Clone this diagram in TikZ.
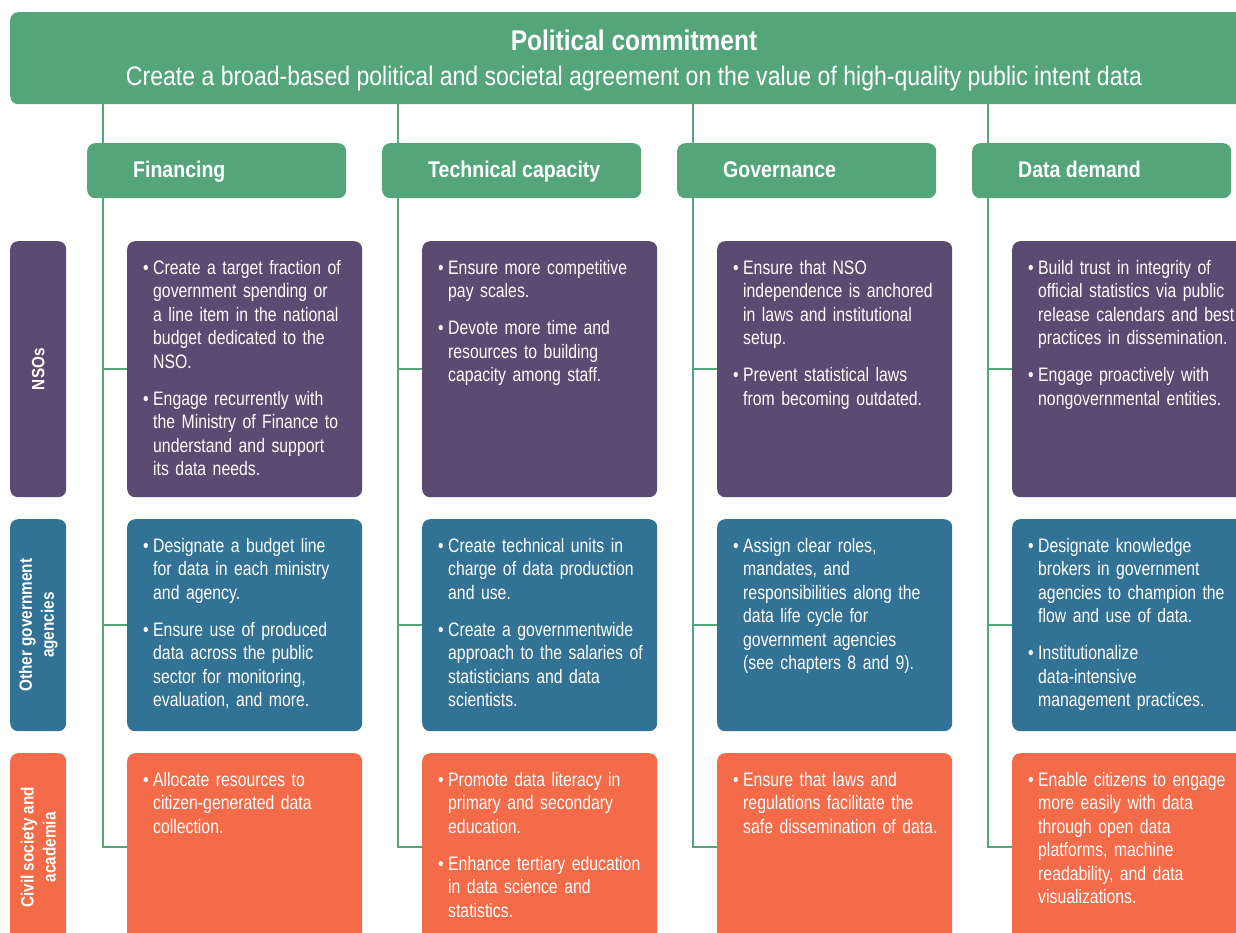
\documentclass[tikz,border=0pt]{standalone}
\usepackage{fontspec}
\setmainfont{Liberation Sans}[FakeStretch=0.86]
\newfontfamily\bodyfont{Liberation Sans}[FakeStretch=0.81]
\usetikzlibrary{calc,backgrounds}
\definecolor{pgreen}{HTML}{54A67A}
\definecolor{ppurple}{HTML}{5B4A71}
\definecolor{pblue}{HTML}{327294}
\definecolor{porange}{HTML}{F36B48}
\newcommand\bitem[1]{{\parskip=0pt\let\\\newline\noindent\hangindent=10pt\hangafter=1\strut\makebox[10pt][l]{\textbullet}#1\par}}
\newcommand\bgap{\vspace{13.5pt}}
\tikzset{
  conn/.style={draw=pgreen, line width=2pt},
  banner/.style={fill=pgreen, rounded corners=8pt, anchor=north west, minimum width=1248, minimum height=92, inner sep=0},
  hbox/.style={fill=pgreen, rounded corners=8pt, anchor=north west, minimum width=259, minimum height=55, inner sep=0},
  cbox/.style={fill=#1, rounded corners=8pt, anchor=north west, minimum width=235, inner sep=0},
  lbox/.style={fill=#1, rounded corners=8pt, anchor=north west, minimum width=56, inner sep=0},
  titlet/.style={anchor=base, text=white, inner sep=0, font=\bfseries\fontsize{28.5}{32}\selectfont},
  subt/.style={anchor=base, text=white, inner sep=0, font=\fontsize{26.8}{30}\selectfont},
  htext/.style={anchor=base west, text=white, inner sep=0, font=\bfseries\fontsize{22.7}{26}\selectfont},
  ltext/.style={rotate=90, text=white, inner sep=0, align=center, font=\bfseries\fontsize{17.8}{22}\selectfont},
  txt/.style={anchor=north west, inner sep=0, text width=240pt, text=white, font=\bodyfont\fontsize{19.5}{23.5}\selectfont},
}
\begin{document}
\begin{tikzpicture}[x=1pt,y=-1pt]
\useasboundingbox (0,0) rectangle (1236,933);
\clip (0,0) rectangle (1236,933);

% banner
\node[banner] (banner) at (10,12) {};
\node[titlet] (title) at (634,51) {Political commitment};
\node[subt] (sub) at (634,86) {Create a broad-based political and societal agreement on the value of high-quality public intent data};

% column headers
\node[hbox] (finh) at (87,143) {};
\node[htext] (finht) at ($(finh.north west)+(46,35)$) {Financing};
\node[hbox] (tech) at (382,143) {};
\node[htext] (techt) at ($(tech.north west)+(46,35)$) {Technical capacity};
\node[hbox] (govh) at (677,143) {};
\node[htext] (govht) at ($(govh.north west)+(46,35)$) {Governance};
\node[hbox] (demh) at (972,143) {};
\node[htext] (demht) at ($(demh.north west)+(46,35)$) {Data demand};

% row labels
\node[lbox=ppurple, minimum height=256] (nso) at (10,241) {};
\node[ltext] (nsot) at (nso.center) {NSOs};
\node[lbox=pblue, minimum height=212] (oga) at (10,519) {};
\node[ltext] (ogat) at (oga.center) {Other government\\agencies};
\node[lbox=porange, minimum height=188] (csa) at (10,753) {};
\node[ltext] (csat) at (csa.center) {Civil society and\\academia};

% content boxes
\foreach \c/\x in {fin/127, tec/422, gov/717, dem/1012}{
  \node[cbox=ppurple, minimum height=256] (\c a) at (\x,241) {};
  \node[cbox=pblue, minimum height=212] (\c b) at (\x,519) {};
  \node[cbox=porange, minimum height=188] (\c c) at (\x,753) {};
}

% texts
\node[txt] (fint1) at ($(fina.north west)+(16,16.5)$) {%
\bitem{Create a target fraction of\\government spending or\\a line item in the national\\budget dedicated to the\\NSO.}\bgap
\bitem{Engage recurrently with\\the Ministry of Finance to\\understand and support\\its data needs.}};
\node[txt] (tect1) at ($(teca.north west)+(16,16.5)$) {%
\bitem{Ensure more competitive\\pay scales.}\bgap
\bitem{Devote more time and\\resources to building\\capacity among staff.}};
\node[txt] (govt1) at ($(gova.north west)+(16,16.5)$) {%
\bitem{Ensure that NSO\\independence is anchored\\in laws and institutional\\setup.}\bgap
\bitem{Prevent statistical laws\\from becoming outdated.}};
\node[txt] (demt1) at ($(dema.north west)+(16,16.5)$) {%
\bitem{Build trust in integrity of\\official statistics via public\\release calendars and best\\practices in dissemination.}\bgap
\bitem{Engage proactively with\\nongovernmental entities.}};

\node[txt] (fint2) at ($(finb.north west)+(16,16.5)$) {%
\bitem{Designate a budget line\\for data in each ministry\\and agency.}\bgap
\bitem{Ensure use of produced\\data across the public\\sector for monitoring,\\evaluation, and more.}};
\node[txt] (tect2) at ($(tecb.north west)+(16,16.5)$) {%
\bitem{Create technical units in\\charge of data production\\and use.}\bgap
\bitem{Create a governmentwide\\approach to the salaries of\\statisticians and data\\scientists.}};
\node[txt] (govt2) at ($(govb.north west)+(16,16.5)$) {%
\bitem{Assign clear roles,\\mandates, and\\responsibilities along the\\data life cycle for\\government agencies\\(see chapters 8 and 9).}};
\node[txt] (demt2) at ($(demb.north west)+(16,16.5)$) {%
\bitem{Designate knowledge\\brokers in government\\agencies to champion the\\flow and use of data.}\bgap
\bitem{Institutionalize\\data-intensive\\management practices.}};

\node[txt] (fint3) at ($(finc.north west)+(16,16.5)$) {%
\bitem{Allocate resources to\\citizen-generated data\\collection.}};
\node[txt] (tect3) at ($(tecc.north west)+(16,16.5)$) {%
\bitem{Promote data literacy in\\primary and secondary\\education.}\bgap
\bitem{Enhance tertiary education\\in data science and\\statistics.}};
\node[txt] (govt3) at ($(govc.north west)+(16,16.5)$) {%
\bitem{Ensure that laws and\\regulations facilitate the\\safe dissemination of data.}};
\node[txt] (demt3) at ($(demc.north west)+(16,16.5)$) {%
\bitem{Enable citizens to engage\\more easily with data\\through open data\\platforms, machine\\readability, and data\\visualizations.}};

% connectors
\begin{scope}[on background layer]
\foreach \c/\h in {fin/finh, tec/tech, gov/govh, dem/demh}{
  \coordinate (\c top) at ($(banner.south -| \h.west)+(16,0)$);
  \draw[conn] (\c top) |- (\c c.west);
  \draw[conn] (\c a.west -| \c top) -- (\c a.west);
  \draw[conn] (\c b.west -| \c top) -- (\c b.west);
}
\end{scope}
\end{tikzpicture}
\end{document}
